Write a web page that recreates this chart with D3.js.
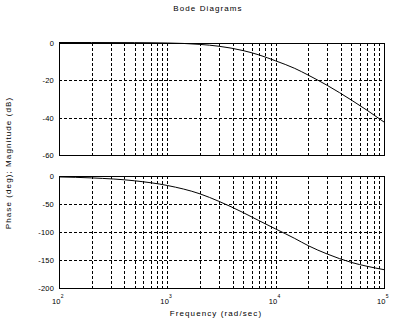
<!DOCTYPE html>
<html>
<head>
<meta charset="utf-8">
<script src="https://cdn.jsdelivr.net/npm/d3@7"></script>
<style>
  body { margin: 0; background: #fff; }
  text { font-family: "Liberation Sans", Arial, sans-serif; font-size: 8px; fill: #000; letter-spacing: 1.1px; }
  text.tick { font-size: 7.5px; letter-spacing: 0.2px; }
  .grid line { stroke: #000; stroke-width: 1; stroke-dasharray: 3,2; shape-rendering: crispEdges; }
  .frame { fill: none; stroke: #000; stroke-width: 1; shape-rendering: crispEdges; }
  .curve { fill: none; stroke: #000; stroke-width: 1; }
</style>
</head>
<body>
<svg id="chart" width="401" height="333"></svg>
<script>
// frequencies (rad/sec)
var freq = [100, 200, 500, 1000, 2000, 3000, 5000, 7000, 10000, 15000, 20000, 30000, 50000, 70000, 100000];
// magnitude in dB
var magDb = [0, -0.01, -0.07, -0.27, -1.0, -2.0, -4.3, -6.6, -9.8, -13.8, -17.4, -22.9, -30.7, -36.2, -42.4];
// phase in degrees
var phaseDeg = [-1.7, -3.4, -8.6, -17, -32, -45.5, -65.5, -80, -95, -112, -125, -140, -155, -162, -168];

var magTicks = [0, -20, -40, -60];
var phaseTicks = [0, -50, -100, -150, -200];
var freqTicks = [2, 3, 4, 5];   // exponents of 10

var svg = d3.select("#chart");

var left = 59, right = 384;
var x = d3.scaleLog().domain([1e2, 1e5]).range([left, right]);

var yMag = d3.scaleLinear().domain([-60, 0]).range([155, 42.5]);
var yPh = d3.scaleLinear().domain([-200, 0]).range([287.5, 176]);

// all the grid frequencies: 1..9 in each decade
var gridFreq = [];
for (var e = 2; e < 5; e++) {
    for (var k = 1; k < 10; k++) gridFreq.push(k * Math.pow(10, e));
}
gridFreq.push(1e5);

function panel(y, ticks, values) {
    var g = svg.append("g");
    var top = y.range()[1], bottom = y.range()[0];

    var grid = g.append("g").attr("class", "grid");
    grid.selectAll(".v")
        .data(gridFreq)
        .enter().append("line")
        .attr("x1", function (d) { return Math.round(x(d)) + 0.5; })
        .attr("x2", function (d) { return Math.round(x(d)) + 0.5; })
        .attr("y1", top)
        .attr("y2", bottom);
    grid.selectAll(".h")
        .data(ticks.slice(1, ticks.length - 1))
        .enter().append("line")
        .attr("x1", left)
        .attr("x2", right)
        .attr("y1", function (d) { return Math.round(y(d)) + 0.5; })
        .attr("y2", function (d) { return Math.round(y(d)) + 0.5; });

    g.append("rect")
        .attr("class", "frame")
        .attr("x", left + 0.5)
        .attr("y", Math.round(top) + 0.5)
        .attr("width", right - left)
        .attr("height", Math.round(bottom) - Math.round(top));

    g.selectAll(".ylab")
        .data(ticks)
        .enter().append("text")
        .attr("class", "tick")
        .attr("x", 54)
        .attr("y", function (d) { return y(d) + 3; })
        .attr("text-anchor", "end")
        .text(function (d) { return d; });

    var line = d3.line()
        .x(function (d, i) { return x(freq[i]); })
        .y(function (d) { return y(d); })
        .curve(d3.curveMonotoneX);
    g.append("path")
        .attr("class", "curve")
        .attr("d", line(values));
}

panel(yMag, magTicks, magDb);
panel(yPh, phaseTicks, phaseDeg);

// thicker top edge where the magnitude trace sits on 0 dB
svg.append("line")
    .attr("x1", left).attr("x2", x(1000))
    .attr("y1", 43.5).attr("y2", 43.5)
    .attr("stroke", "#000").attr("stroke-width", 1);

// x tick labels 10^n
var xl = svg.selectAll(".xlab")
    .data(freqTicks)
    .enter().append("text")
    .attr("class", "tick")
    .attr("x", function (d) { return x(Math.pow(10, d)) - 7; })
    .attr("y", 303.5);
xl.append("tspan").text("10");
xl.append("tspan")
    .attr("dy", -6)
    .style("font-size", "5px")
    .text(function (d) { return d; });

svg.append("text")
    .attr("x", 208)
    .attr("y", 10.5)
    .attr("text-anchor", "middle")
    .text("Bode Diagrams");

svg.append("text")
    .attr("x", 216)
    .attr("y", 316)
    .attr("text-anchor", "middle")
    .text("Frequency (rad/sec)");

svg.append("text")
    .attr("transform", "translate(11,163)rotate(-90)")
    .attr("text-anchor", "middle")
    .text("Phase (deg); Magnitude (dB)");
</script>
</body>
</html>
